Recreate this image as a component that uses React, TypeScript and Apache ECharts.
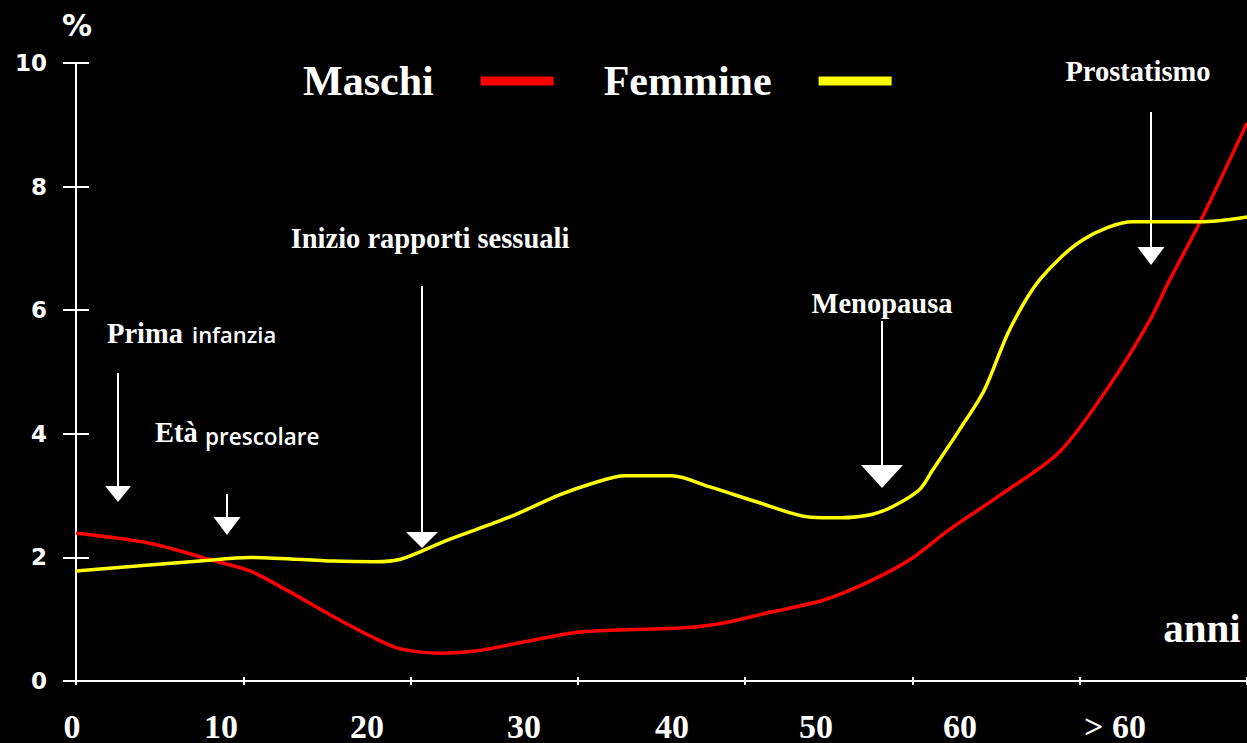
import React, { useEffect, useRef } from "react";
import * as echarts from "echarts";

// x in chart units (one axis tick = 10 units), y in %
const maschiX = [0, 4.4, 8.2, 10.4, 12.6, 15.4, 17.8, 19.4, 21.9, 24, 27.3, 30, 34.3, 36.3, 38.7, 41.3, 44.7, 47.5, 50, 52.2, 55.2, 58.8, 61.8, 64.2, 65.3, 67.2, 70];
const maschiY = [2.39, 2.23, 1.95, 1.78, 1.47, 1.04, 0.7, 0.52, 0.45, 0.49, 0.66, 0.79, 0.84, 0.86, 0.94, 1.1, 1.31, 1.62, 1.99, 2.45, 3.0, 3.71, 4.79, 5.84, 6.45, 7.43, 9.03];

const femmineX = [0, 7.4, 10.4, 15.4, 17.8, 19.4, 22.2, 25.9, 28.9, 30.9, 32.8, 35.6, 37.9, 40.9, 43.9, 45.7, 47.5, 48.8, 50.4, 51.2, 52.8, 54.3, 55.8, 57.6, 60.2, 63.2, 67.2, 70];
const femmineY = [1.78, 1.94, 2.0, 1.94, 1.93, 1.97, 2.28, 2.65, 3.01, 3.2, 3.32, 3.32, 3.14, 2.88, 2.65, 2.64, 2.69, 2.82, 3.09, 3.41, 4.06, 4.71, 5.68, 6.49, 7.14, 7.43, 7.43, 7.51];

const xTickLabels = ["0", "10", "20", "30", "40", "50", "60", "> 60"];
const seriesNames = ["Maschi", "Femmine"];
const annotations = ["Prima infanzia", "Età prescolare", "Inizio rapporti sessuali", "Menopausa", "Prostatismo"];

const SERIF = '"Liberation Serif", "Times New Roman", serif';
const SANS = '"DejaVu Sans", Verdana, sans-serif';
const HUMAN = '"Open Sans", "Noto Sans", sans-serif';

export default function App() {
  const ref = useRef<HTMLDivElement>(null);

  useEffect(() => {
    document.body.style.margin = "0";
    document.body.style.background = "#000";
    const chart = echarts.init(ref.current!, null, { renderer: "svg" });

    const zip = (xs: number[], ys: number[]) => xs.map((x, i) => [x, ys[i]]);

    const xLabelPos = [72, 221, 367, 524, 672, 816, 960, 1115];

    const txt = (text: string, x: number, y: number, font: string, align = "center") => ({
      type: "text",
      x,
      y,
      silent: true,
      style: {
        text,
        fill: "#fff",
        font,
        align,
        verticalAlign: "middle",
        textAlign: align,
        textVerticalAlign: "middle",
      },
    });

    const arrow = (x: number, y1: number, y2: number, hw: number, hh: number) => [
      {
        type: "line",
        silent: true,
        shape: { x1: x, y1, x2: x, y2 },
        style: { stroke: "#fff", lineWidth: 2 },
      },
      {
        type: "polygon",
        silent: true,
        shape: { points: [[x - hw, y2], [x + hw, y2], [x, y2 + hh]] },
        style: { fill: "#fff" },
      },
    ];

    const graphics: any[] = [
      txt("%", 77, 25, `bold 30px ${SANS}`),
      txt("anni", 1202, 628, `bold 41px ${SERIF}`),
      txt("Prima", 107, 333, `bold 28.5px ${SERIF}`, "left"),
      txt("infanzia", 192, 334, `600 22px ${HUMAN}`, "left"),
      txt("Età", 155, 432, `bold 28.5px ${SERIF}`, "left"),
      txt("prescolare", 205, 436, `600 22.5px ${HUMAN}`, "left"),
      txt(annotations[2], 430, 238, `bold 28.5px ${SERIF}`),
      txt(annotations[3], 882, 303, `bold 28.5px ${SERIF}`),
      txt(annotations[4], 1138, 71, `bold 28.5px ${SERIF}`),
      ...arrow(118, 373, 486, 13, 16),
      ...arrow(227, 494, 517, 13.5, 18),
      ...arrow(422, 286, 532, 16, 16),
      ...arrow(882, 321, 465, 21, 23),
      ...arrow(1151, 112, 247, 13.5, 18),
      ...xTickLabels.map((t, i) => txt(t, xLabelPos[i], 726, `bold 34px ${SERIF}`)),
    ];

    chart.setOption({
      animation: false,
      backgroundColor: "#000",
      grid: { left: 76, right: 0, top: 63, bottom: 62, containLabel: false },
      legend: {
        left: 303,
        top: 60,
        padding: 0,
        itemGap: 50,
        align: "right",
        icon: "rect",
        itemWidth: 73,
        itemHeight: 9,
        selectedMode: false,
        data: seriesNames,
        textStyle: {
          color: "#fff",
          fontFamily: SERIF,
          fontWeight: "bold",
          fontSize: 42,
          padding: [11, 42, 0, 0],
        },
      },
      xAxis: [
        {
          type: "value",
          min: 0,
          max: 70,
          interval: 10,
          position: "bottom",
          axisLine: { show: true, lineStyle: { color: "#fff", width: 2 } },
          axisTick: { show: true, length: 4, lineStyle: { color: "#fff", width: 2 } },
          axisLabel: { show: false },
          splitLine: { show: false },
        },
        {
          type: "value",
          min: 0,
          max: 70,
          interval: 10,
          position: "bottom",
          axisLine: { show: false },
          axisTick: { show: true, inside: true, length: 4, lineStyle: { color: "#fff", width: 2 } },
          axisLabel: { show: false },
          splitLine: { show: false },
        },
      ],
      yAxis: [
        {
          type: "value",
          min: 0,
          max: 10,
          interval: 2,
          position: "left",
          axisLine: { show: true, lineStyle: { color: "#fff", width: 2 } },
          axisTick: { show: true, length: 13, lineStyle: { color: "#fff", width: 2 } },
          axisLabel: {
            color: "#fff",
            fontFamily: SANS,
            fontWeight: "bold",
            fontSize: 23,
            margin: 29,
          },
          splitLine: { show: false },
        },
        {
          type: "value",
          min: 0,
          max: 10,
          interval: 2,
          position: "left",
          offset: 0,
          axisLine: { show: false },
          axisTick: { show: true, inside: true, length: 13, lineStyle: { color: "#fff", width: 2 } },
          axisLabel: { show: false },
          splitLine: { show: false },
        },
      ],
      series: [
        {
          name: seriesNames[0],
          type: "line",
          xAxisIndex: 0,
          yAxisIndex: 0,
          data: zip(maschiX, maschiY),
          smooth: 0.3,
          symbol: "none",
          color: "#ff0000",
          lineStyle: { color: "#ff0000", width: 3.5 },
        },
        {
          name: seriesNames[1],
          type: "line",
          xAxisIndex: 0,
          yAxisIndex: 0,
          data: zip(femmineX, femmineY),
          smooth: 0.3,
          symbol: "none",
          color: "#ffff00",
          lineStyle: { color: "#ffff00", width: 3.5 },
        },
      ],
      graphic: graphics,
    });

    return () => chart.dispose();
  }, []);

  return <div ref={ref} style={{ width: 1247, height: 743, background: "#000" }} />;
}
